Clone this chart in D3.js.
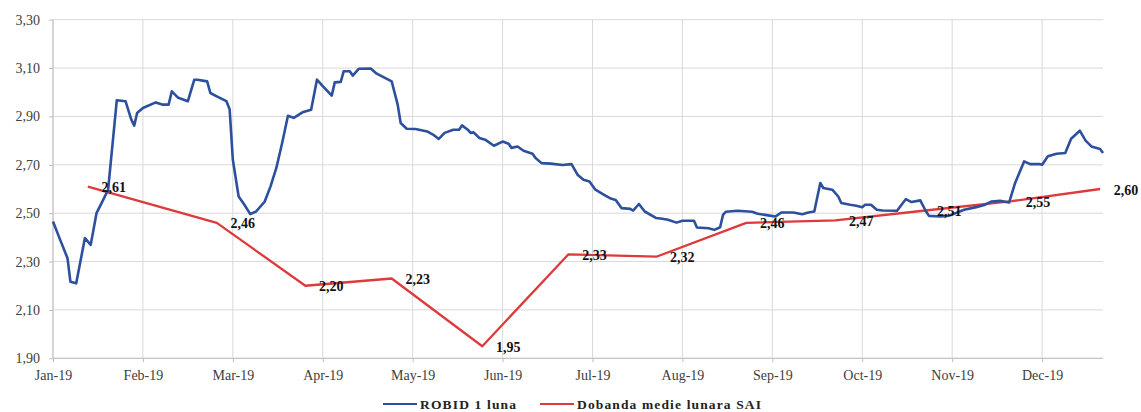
<!DOCTYPE html>
<html>
<head>
<meta charset="utf-8">
<script src="https://cdn.jsdelivr.net/npm/d3@7"></script>
<style>
  html, body { margin: 0; padding: 0; background: #ffffff; }
  svg { display: block; }
</style>
</head>
<body>
<svg id="chart" width="1141" height="412"></svg>
<script>
// ---------- data ----------
const monthLabels = ["Jan-19","Feb-19","Mar-19","Apr-19","May-19","Jun-19","Jul-19","Aug-19","Sep-19","Oct-19","Nov-19","Dec-19"];
const yTicks = [1.90, 2.10, 2.30, 2.50, 2.70, 2.90, 3.10, 3.30];

const robidDates = [
  "2019-01-01","2019-01-03","2019-01-06","2019-01-07","2019-01-09","2019-01-12","2019-01-14","2019-01-16","2019-01-18","2019-01-20",
  "2019-01-23","2019-01-26","2019-01-28","2019-01-29","2019-01-30","2019-02-01","2019-02-05","2019-02-07","2019-02-09","2019-02-10",
  "2019-02-12","2019-02-15","2019-02-17","2019-02-18","2019-02-21","2019-02-22","2019-02-24","2019-02-27","2019-02-28","2019-03-01",
  "2019-03-03","2019-03-05","2019-03-07","2019-03-09","2019-03-12","2019-03-14","2019-03-16","2019-03-18","2019-03-20","2019-03-22",
  "2019-03-25","2019-03-28","2019-03-30","2019-04-01","2019-04-04","2019-04-05","2019-04-07","2019-04-08","2019-04-10","2019-04-11",
  "2019-04-13","2019-04-17","2019-04-19","2019-04-24","2019-04-26","2019-04-27","2019-04-29","2019-05-02","2019-05-06","2019-05-08",
  "2019-05-10","2019-05-12","2019-05-15","2019-05-17","2019-05-18","2019-05-20","2019-05-21","2019-05-22","2019-05-24","2019-05-26",
  "2019-05-29","2019-06-01","2019-06-03","2019-06-04","2019-06-06","2019-06-08","2019-06-11","2019-06-12","2019-06-14","2019-06-17",
  "2019-06-21","2019-06-24","2019-06-26","2019-06-28","2019-06-30","2019-07-02","2019-07-05","2019-07-07","2019-07-09","2019-07-11",
  "2019-07-14","2019-07-15","2019-07-17","2019-07-19","2019-07-23","2019-07-25","2019-07-27","2019-07-30","2019-08-01","2019-08-05",
  "2019-08-06","2019-08-10","2019-08-12","2019-08-14","2019-08-15","2019-08-16","2019-08-20","2019-08-25","2019-08-27","2019-08-30",
  "2019-09-02","2019-09-04","2019-09-08","2019-09-11","2019-09-13","2019-09-15","2019-09-17","2019-09-18","2019-09-21","2019-09-23",
  "2019-09-24","2019-09-27","2019-09-29","2019-10-01","2019-10-02","2019-10-04","2019-10-06","2019-10-08","2019-10-13","2019-10-15",
  "2019-10-16","2019-10-18","2019-10-21","2019-10-23","2019-10-24","2019-10-28","2019-10-31","2019-11-05","2019-11-09","2019-11-12",
  "2019-11-14","2019-11-17","2019-11-20","2019-11-22","2019-11-25","2019-11-27","2019-11-30","2019-12-01","2019-12-03","2019-12-06",
  "2019-12-09","2019-12-11","2019-12-14","2019-12-16","2019-12-18","2019-12-21","2019-12-22"
];
const robidValues = [
  2.466,2.404,2.314,2.217,2.210,2.397,2.369,2.500,2.548,2.597,
  2.967,2.963,2.887,2.862,2.914,2.935,2.958,2.949,2.949,3.004,
  2.977,2.963,3.052,3.052,3.045,2.997,2.983,2.963,2.930,2.721,
  2.569,2.535,2.496,2.507,2.548,2.611,2.687,2.790,2.903,2.894,
  2.917,2.928,3.052,3.025,2.986,3.041,3.043,3.087,3.087,3.069,
  3.097,3.098,3.077,3.045,2.949,2.873,2.849,2.848,2.838,2.825,
  2.807,2.832,2.845,2.845,2.863,2.845,2.832,2.834,2.811,2.804,
  2.779,2.796,2.787,2.770,2.776,2.758,2.746,2.728,2.707,2.705,
  2.699,2.703,2.659,2.638,2.631,2.597,2.576,2.562,2.555,2.521,
  2.518,2.511,2.538,2.507,2.480,2.477,2.473,2.461,2.469,2.469,
  2.441,2.438,2.431,2.442,2.493,2.506,2.510,2.506,2.498,2.492,
  2.486,2.503,2.503,2.496,2.503,2.507,2.625,2.604,2.597,2.569,
  2.542,2.535,2.531,2.525,2.535,2.535,2.514,2.511,2.510,2.542,
  2.558,2.546,2.553,2.507,2.489,2.486,2.490,2.514,2.525,2.535,
  2.548,2.551,2.544,2.625,2.714,2.703,2.703,2.700,2.735,2.746,
  2.749,2.808,2.841,2.800,2.776,2.765,2.749
];

const saiDates  = ["2019-01-13","2019-02-24","2019-03-26","2019-04-24","2019-05-25","2019-06-23","2019-07-23","2019-08-23","2019-09-22","2019-10-22","2019-11-21","2019-12-21"];
const saiValues = [2.61, 2.46, 2.20, 2.23, 1.95, 2.33, 2.32, 2.46, 2.47, 2.51, 2.55, 2.60];

const seriesNames = ["ROBID 1 luna", "Dobanda medie lunara SAI"];
const seriesColors = ["#2c4f9e", "#dc3a3c"];

// ---------- layout ----------
const parse = d3.timeParse("%Y-%m-%d");
const plotLeft = 53, plotRight = 1103, plotTop = 19.7, plotBottom = 358.3;
const endDate = parse("2019-12-22");
const monthStarts = monthLabels.map((m, i) => new Date(2019, i, 1));
const monthSpan = 11 + (endDate.getDate() - 1) / 31;
const step = (plotRight - plotLeft) / monthSpan;

const x = d3.scaleTime()
  .domain([...monthStarts, endDate])
  .range([...monthStarts.map((d, i) => plotLeft + i * step), plotRight]);
const y = d3.scaleLinear().domain([1.90, 3.30]).range([plotBottom, plotTop]);

const ro = d3.formatLocale({decimal: ",", thousands: ".", grouping: [3], currency: ["", " lei"]});
const fmt = ro.format(".2f");

const svg = d3.select("#chart");

// gridlines
const g = svg.append("g");
g.selectAll("line.hg").data(yTicks).enter().append("line")
  .attr("x1", plotLeft).attr("x2", plotRight)
  .attr("y1", d => y(d)).attr("y2", d => y(d))
  .attr("stroke", "#d9d9d9").attr("stroke-width", 1);
g.selectAll("line.vg").data(monthStarts).enter().append("line")
  .attr("x1", d => x(d)).attr("x2", d => x(d))
  .attr("y1", plotTop).attr("y2", plotBottom)
  .attr("stroke", "#d9d9d9").attr("stroke-width", 1);

// axes
const xAxis = d3.axisBottom(x).tickValues(monthStarts)
  .tickFormat((d, i) => monthLabels[i]).tickSize(4).tickPadding(8);
const yAxis = d3.axisLeft(y).tickValues(yTicks)
  .tickFormat(d => fmt(d)).tickSize(4).tickPadding(9);

const gx = svg.append("g").attr("transform", `translate(0,${plotBottom})`).call(xAxis);
const gy = svg.append("g").attr("transform", `translate(${plotLeft},0)`).call(yAxis);
[gx, gy].forEach(a => {
  a.select(".domain").attr("stroke", "#bfbfbf");
  a.selectAll(".tick line").attr("stroke", "#bfbfbf");
  a.selectAll("text")
    .attr("font-family", "'Liberation Serif', 'Times New Roman', serif")
    .attr("font-size", 14).attr("fill", "#404040");
});
gx.select(".domain").attr("d", `M${plotLeft},0H${plotRight}`);
gy.select(".domain").attr("d", `M0,${plotTop}V${plotBottom}`);

// lines
const robid = robidDates.map((d, i) => ({date: parse(d), value: robidValues[i]}));
const sai = saiDates.map((d, i) => ({date: parse(d), value: saiValues[i]}));
const line = d3.line().x(d => x(d.date)).y(d => y(d.value));

svg.append("path").datum(sai).attr("d", line)
  .attr("fill", "none").attr("stroke", seriesColors[1]).attr("stroke-width", 2.3)
  .attr("stroke-linejoin", "round");
svg.append("path").datum(robid).attr("d", line)
  .attr("fill", "none").attr("stroke", seriesColors[0]).attr("stroke-width", 2.6)
  .attr("stroke-linejoin", "round");

// data labels
svg.append("g").selectAll("text").data(sai).enter().append("text")
  .attr("x", d => x(d.date) + 26)
  .attr("y", d => y(d.value) + 1)
  .attr("text-anchor", "middle")
  .attr("dominant-baseline", "central")
  .attr("font-family", "'Liberation Serif', 'Times New Roman', serif")
  .attr("font-weight", "bold").attr("font-size", 14).attr("fill", "#111")
  .text(d => fmt(d.value));

// legend
const legendX = [383, 540];
const legendTextWidth = [96, 184];
const lg = svg.append("g");
seriesNames.forEach((name, i) => {
  lg.append("line").attr("x1", legendX[i]).attr("x2", legendX[i] + 34)
    .attr("y1", 404).attr("y2", 404)
    .attr("stroke", seriesColors[i]).attr("stroke-width", 2.2);
  lg.append("text").attr("x", legendX[i] + 37).attr("y", 404)
    .attr("dominant-baseline", "central")
    .attr("font-family", "'Liberation Serif', 'Times New Roman', serif")
    .attr("font-weight", "bold").attr("font-size", 13.5)
    .attr("textLength", legendTextWidth[i]).attr("lengthAdjust", "spacing")
    .attr("fill", "#222")
    .text(name);
});
</script>
</body>
</html>
